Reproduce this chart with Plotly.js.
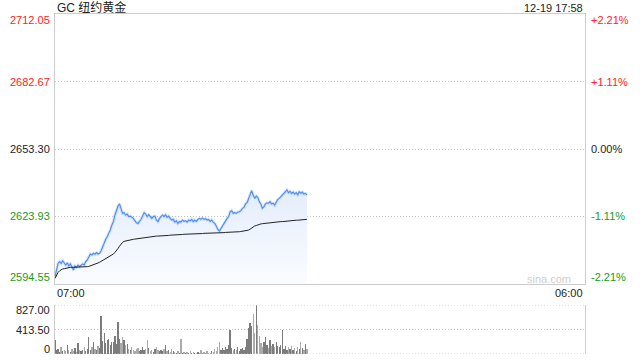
<!DOCTYPE html>
<html>
<head>
<meta charset="utf-8">
<script src="https://cdn.plot.ly/plotly-3.0.1.min.js"></script>
<style>html,body{margin:0;padding:0;background:#fff;}#chart{width:640px;height:360px;}</style>
</head>
<body>
<div id="chart"></div>
<script>
// ---- data ----
const title = 'GC 纽约黄金';
const stamp = '12-19 17:58';
const prevClose = 2653.30;
const startLabel = '07:00';
const endLabel = '06:00';
const sessionMinutes = 1380;   // 07:00 -> 06:00 next day
const stepMinutes = 4;          // one sample every 4 minutes from 07:00

const priceTicks = [2712.05, 2682.67, 2653.30, 2623.93, 2594.55];
const pctLabels = ['+2.21%', '+1.11%', '0.00%', '-1.11%', '-2.21%'];
const volTicks = [827.00, 413.50, 0];
const volTickLabels = ['827.00', '413.50', '0'];

const price = [
2597.7,2601.4,2603.6,2604.3,2603.5,2604.7,2603.6,2602.8,2603.8,2602.4,
2603.3,2601.8,2600.6,2602.4,2601.8,2602.8,2602.1,2602.7,2603.3,2602.8,
2604.3,2605.0,2606.4,2607.6,2607.2,2607.9,2607.5,2608.2,2607.6,2607.9,
2609.0,2610.8,2613.0,2614.0,2615.2,2616.6,2618.1,2620.2,2621.7,2624.6,
2626.8,2628.5,2629.4,2626.8,2625.3,2625.6,2624.6,2625.0,2623.9,2624.1,
2623.6,2623.1,2622.1,2621.2,2620.9,2621.7,2622.7,2624.1,2625.6,2625.0,
2623.9,2624.7,2624.1,2623.1,2623.9,2624.1,2622.4,2621.7,2623.1,2623.9,
2624.6,2623.9,2624.7,2623.6,2624.1,2623.1,2622.4,2622.7,2621.5,2622.1,
2620.9,2621.8,2621.5,2622.4,2621.8,2622.1,2621.5,2622.4,2622.0,2622.7,
2621.7,2622.4,2621.8,2622.7,2623.1,2622.7,2623.3,2622.7,2623.0,2622.4,
2622.7,2621.8,2622.4,2621.5,2620.9,2619.8,2618.3,2617.6,2618.8,2619.8,
2620.9,2622.1,2623.1,2623.9,2626.0,2626.5,2625.3,2625.6,2625.3,2625.9,
2626.0,2626.5,2627.5,2627.9,2629.4,2629.9,2631.8,2634.0,2635.2,2633.3,
2631.8,2632.8,2632.3,2630.4,2629.4,2627.5,2628.2,2629.4,2629.9,2629.7,
2630.4,2629.4,2629.7,2628.9,2630.4,2631.4,2631.8,2632.6,2633.3,2633.7,
2634.7,2635.5,2634.3,2634.9,2634.0,2634.6,2633.7,2634.3,2633.4,2634.7,
2634.0,2634.6,2633.7,2634.0,2633.3];

const avgPrice = [
2597.0,2598.5,2599.6,2600.3,2600.8,2601.1,2601.2,2601.4,2601.5,2601.7,
2601.8,2601.8,2601.8,2601.8,2601.8,2601.9,2601.9,2601.9,2601.9,2602.0,
2602.0,2602.1,2602.2,2602.4,2602.6,2602.8,2603.1,2603.4,2603.7,2604.0,
2604.4,2604.8,2605.2,2605.6,2606.0,2606.3,2606.8,2607.2,2607.6,2608.3,
2609.0,2610.0,2611.0,2612.0,2612.7,2613.1,2613.3,2613.5,2613.6,2613.8,
2613.9,2614.0,2614.1,2614.2,2614.3,2614.4,2614.5,2614.7,2614.8,2615.0,
2615.1,2615.2,2615.2,2615.3,2615.3,2615.3,2615.4,2615.4,2615.4,2615.5,
2615.5,2615.6,2615.6,2615.7,2615.7,2615.8,2615.8,2615.9,2615.9,2616.0,
2616.0,2616.0,2616.1,2616.1,2616.2,2616.2,2616.2,2616.3,2616.3,2616.3,
2616.4,2616.4,2616.4,2616.5,2616.5,2616.5,2616.5,2616.6,2616.6,2616.6,
2616.6,2616.7,2616.7,2616.7,2616.8,2616.8,2616.8,2616.9,2616.9,2616.9,
2616.9,2617.0,2617.0,2617.0,2617.1,2617.1,2617.1,2617.2,2617.2,2617.3,
2617.3,2617.4,2617.5,2617.6,2617.7,2617.8,2618.0,2618.4,2618.9,2619.5,
2619.8,2620.0,2620.3,2620.5,2620.7,2620.8,2620.9,2621.0,2621.0,2621.1,
2621.2,2621.3,2621.3,2621.4,2621.5,2621.5,2621.6,2621.7,2621.7,2621.8,
2621.9,2621.9,2622.0,2622.0,2622.1,2622.2,2622.2,2622.3,2622.3,2622.4,
2622.5,2622.5,2622.6,2622.6,2622.7];

const volume = [
240,60,85,40,110,55,70,45,145,60,35,80,50,95,40,185,65,50,75,110,45,90,290,70,120,200,85,60,140,95,
647,220,347,180,240,260,150,210,195,300,170,537,260,190,280,230,150,175,
90,60,110,75,45,85,100,55,70,120,65,80,243,95,50,70,40,85,110,60,45,75,55,90,160,50,65,40,80,45,
30,20,45,15,248,25,40,10,35,20,55,15,30,10,25,40,15,60,20,35,10,45,25,15,50,30,
80,55,110,210,70,95,60,120,85,150,405,100,70,
90,60,110,55,80,100,65,120,
250,433,520,470,682,350,827,491,300,
180,120,210,290,150,100,230,130,170,110,200,140,120,160,405,
90,130,60,110,80,140,70,100,55,120,85,210,95,60,170,80];

// ---- build ----
const minutes = price.map((_, i) => i * stepMinutes);
const volColors = price.map((p, i) => (i === 0 || p >= price[i - 1]) ? '#7c7c7c' : '#ababab');
const red = '#f22', green = '#1a9a1a', dark = '#222';
const colorFor = v => Math.abs(v - prevClose) < 1e-6 ? dark : (v > prevClose ? red : green);
const FONT = 'Arial, "Liberation Sans", "Noto Sans CJK SC", sans-serif';
const GRID = '#c4c4c4', DOT = '1px,2px';

const traces = [
  { x: minutes, y: price, type: 'scatter', mode: 'lines', fill: 'tozeroy',
    line: { width: 0, color: 'rgba(0,0,0,0)' },
    fillgradient: { type: 'vertical', start: priceTicks[4], stop: 2636,
      colorscale: [[0, 'rgba(250,252,255,1)'], [1, 'rgba(228,237,252,1)']] },
    hoverinfo: 'skip', xaxis: 'x', yaxis: 'y' },
  { x: minutes, y: price, type: 'scatter', mode: 'lines',
    line: { width: 3, color: 'rgba(80,140,240,0.22)' }, hoverinfo: 'skip', xaxis: 'x', yaxis: 'y' },
  { x: minutes, y: price, type: 'scatter', mode: 'lines',
    line: { width: 1.1, color: '#4d8cf0' }, hoverinfo: 'skip', xaxis: 'x', yaxis: 'y' },
  { x: minutes, y: avgPrice, type: 'scatter', mode: 'lines',
    line: { width: 1, color: '#222' }, hoverinfo: 'skip', xaxis: 'x', yaxis: 'y' },
  { x: minutes, y: volume, type: 'bar', width: 3.4,
    marker: { color: volColors, line: { width: 0 } }, hoverinfo: 'skip', xaxis: 'x2', yaxis: 'y2' }
];

const plotTopPx = 14, plotBotPx = 354, H = plotBotPx - plotTopPx;
const py = px => (plotBotPx - px) / H;   // pixel row -> paper y

const annotations = [];
const baseAnn = { showarrow: false, font: { family: FONT, size: 11 } };
annotations.push(Object.assign({}, baseAnn, { text: title, xref: 'paper', yref: 'paper', x: 0, y: py(7.5),
  xanchor: 'left', yanchor: 'middle', font: { family: FONT, size: 12, color: '#222' } }));
annotations.push(Object.assign({}, baseAnn, { text: stamp, xref: 'paper', yref: 'paper', x: 1, y: py(7.5),
  xanchor: 'right', yanchor: 'middle', font: { family: FONT, size: 11, color: '#222' } }));
priceTicks.forEach((v, i) => {
  const shift = i === 0 ? -6 : (i === priceTicks.length - 1 ? 7 : 0);
  annotations.push(Object.assign({}, baseAnn, { text: v.toFixed(2), xref: 'paper', yref: 'y', x: 0, y: v,
    xanchor: 'right', yanchor: 'middle', xshift: -3, yshift: shift,
    font: { family: FONT, size: 11, color: colorFor(v) } }));
  annotations.push(Object.assign({}, baseAnn, { text: pctLabels[i], xref: 'paper', yref: 'y', x: 1, y: v,
    xanchor: 'left', yanchor: 'middle', xshift: 4, yshift: shift,
    font: { family: FONT, size: 11, color: colorFor(v) } }));
});
annotations.push(Object.assign({}, baseAnn, { text: startLabel, xref: 'paper', yref: 'paper', x: 0, y: py(293),
  xanchor: 'left', yanchor: 'middle', font: { family: FONT, size: 11, color: '#222' } }));
annotations.push(Object.assign({}, baseAnn, { text: endLabel, xref: 'paper', yref: 'paper', x: 1, y: py(293),
  xanchor: 'right', yanchor: 'middle', font: { family: FONT, size: 11, color: '#222' } }));
annotations.push(Object.assign({}, baseAnn, { text: 'sina.com', xref: 'paper', yref: 'paper', x: 1, y: py(279),
  xanchor: 'right', yanchor: 'middle', xshift: -12, font: { family: FONT, size: 11, color: '#cfcfcf' } }));
volTicks.forEach((v, i) => {
  const shift = i === 0 ? -5 : (i === volTicks.length - 1 ? 5 : 0);
  annotations.push(Object.assign({}, baseAnn, { text: volTickLabels[i], xref: 'paper', yref: 'y2', x: 0, y: v,
    xanchor: 'right', yanchor: 'middle', xshift: -3, yshift: shift,
    font: { family: FONT, size: 11, color: '#222' } }));
});

const shapes = [827, 0].map(v => ({ type: 'line', xref: 'paper', yref: 'y2', x0: 0, x1: 1, y0: v, y1: v,
  line: { color: GRID, width: 1, dash: DOT } }));

const layout = {
  width: 640, height: 360,
  margin: { l: 55, r: 55, t: plotTopPx, b: 360 - plotBotPx, pad: 0 },
  paper_bgcolor: '#fff', plot_bgcolor: '#fff',
  showlegend: false,
  font: { family: FONT, size: 11, color: '#222' },
  xaxis: { domain: [0, 1], range: [0, sessionMinutes], anchor: 'y', showline: true, mirror: true,
    linecolor: '#cccccc', linewidth: 1, showgrid: false, zeroline: false, showticklabels: false, ticks: '' },
  yaxis: { domain: [py(284), 1], range: [priceTicks[4], priceTicks[0]], tickvals: priceTicks.slice(1, 4),
    showgrid: true, gridcolor: GRID, griddash: DOT, gridwidth: 1, showticklabels: false, ticks: '',
    showline: true, mirror: true, linecolor: '#cccccc', linewidth: 1, zeroline: false },
  xaxis2: { domain: [0, 1], range: [0, sessionMinutes], anchor: 'y2', showline: false, showgrid: false,
    zeroline: false, showticklabels: false, ticks: '' },
  yaxis2: { domain: [0, py(305)], range: [0, volTicks[0]], tickvals: [volTicks[1]], showgrid: true,
    gridcolor: GRID, griddash: DOT, showticklabels: false, ticks: '', showline: true, mirror: true,
    linecolor: '#cccccc', linewidth: 1, zeroline: false },
  bargap: 0,
  annotations: annotations,
  shapes: shapes
};

Plotly.newPlot('chart', traces, layout, { staticPlot: true, displayModeBar: false });
</script>
</body>
</html>
